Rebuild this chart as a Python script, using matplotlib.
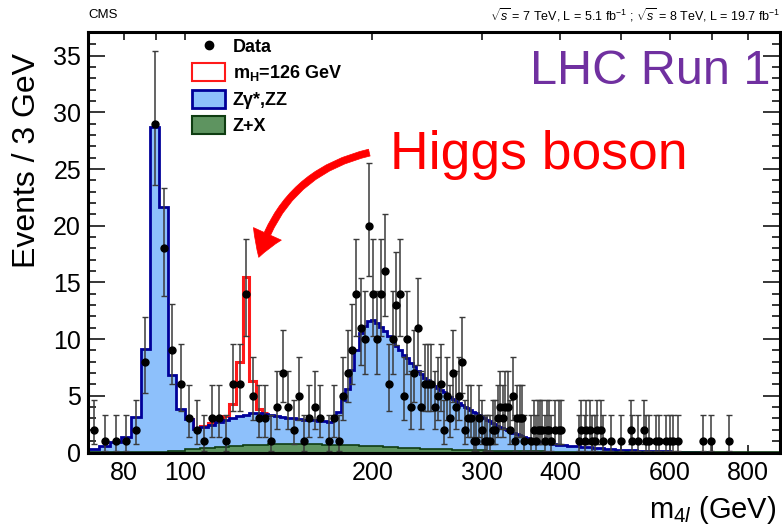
import numpy as np
import matplotlib
matplotlib.use("Agg")
import matplotlib.pyplot as plt
from matplotlib.patches import Patch, FancyArrowPatch
from matplotlib.lines import Line2D

plt.rcParams["font.family"] = ["Liberation Sans", "DejaVu Sans"]
plt.rcParams["mathtext.fontset"] = "custom"
plt.rcParams["mathtext.rm"] = "Liberation Sans"
plt.rcParams["mathtext.it"] = "Liberation Sans:italic"
plt.rcParams["mathtext.bf"] = "Liberation Sans:bold"

# ---- data ----
# background stack top (Zgamma*,ZZ + Z+X), 3 GeV bins 70-400 then 10 GeV bins 400-700
bkg_edges = np.concatenate([np.arange(70, 400, 3), np.arange(400, 701, 10)])
bkg_sum = [
    0.33, 0.53, 0.91, 1.35, 3.1, 9.15, 28.7, 21.7, 6.8, 3.85,
    2.97, 2.09, 2.24, 2.47, 2.68, 2.9, 3.05, 3.2, 3.35, 3.45,
    3.45, 3.4, 3.3, 3.2, 3.1, 3.05, 3.0, 2.95, 2.9, 2.9,
    2.85, 2.8, 2.75, 2.7, 2.95, 3.6, 4.6, 5.6, 7.3, 9.0,
    10.5, 11.2, 11.6, 11.65, 11.4, 11.1, 10.7, 10.3, 9.9, 9.4,
    9.0, 8.6, 8.3, 7.9, 7.6, 7.2, 6.9, 6.6, 6.4, 6.2,
    5.9, 5.7, 5.5, 5.3, 5.1, 4.9, 4.7, 4.55, 4.4, 4.2,
    4.05, 3.9, 3.75, 3.6, 3.45, 3.3, 3.15, 3.0, 2.9, 2.75,
    2.6, 2.5, 2.35, 2.25, 2.15, 2.05, 1.95, 1.85, 1.75, 1.7,
    1.6, 1.5, 1.45, 1.4, 1.3, 1.25, 1.2, 1.1, 1.05, 1.0,
    0.95, 0.92, 0.88, 0.84, 0.8, 0.77, 0.74, 0.71, 0.68, 0.65,
    # 10 GeV bins
    0.62, 0.58, 0.54, 0.49, 0.45, 0.41, 0.37, 0.33, 0.29, 0.26,
    0.23, 0.21, 0.19, 0.17, 0.15, 0.14, 0.12, 0.11, 0.10, 0.09,
    0.08, 0.07, 0.06, 0.055, 0.05, 0.045, 0.04, 0.035, 0.03, 0.03,
]

# m_H = 126 GeV signal on top of the stack, 3 GeV bins starting at 100 GeV
higgs_first_bin = 10
higgs = [0.0, 0.05, 0.1, 0.12, 0.18, 0.36, 1.25, 4.77, 12.15, 2.9, 0.4, 0.1]

# Z+X, 6 GeV bins 70-400 then 20 GeV bins 400-900
zx_edges = np.concatenate([np.arange(70, 400, 6), np.arange(400, 901, 20)])
zx = [
    0.01, 0.02, 0.04, 0.08, 0.15, 0.28, 0.4, 0.5, 0.58, 0.64,
    0.69, 0.72, 0.74, 0.74, 0.73, 0.72, 0.7, 0.68, 0.65, 0.62,
    0.59, 0.56, 0.53, 0.5, 0.47, 0.44, 0.41, 0.38, 0.35, 0.33,
    0.31, 0.29, 0.27, 0.25, 0.23, 0.21, 0.2, 0.19, 0.18, 0.17,
    0.16, 0.15, 0.14, 0.13, 0.12, 0.115, 0.11, 0.105, 0.1, 0.095,
    0.09, 0.085, 0.08, 0.075, 0.07,
    0.065, 0.06, 0.055, 0.05, 0.045, 0.04, 0.035, 0.03, 0.03, 0.025,
    0.02, 0.02, 0.02, 0.015, 0.015, 0.015, 0.01, 0.01, 0.01, 0.01,
    0.01, 0.01, 0.01, 0.01, 0.01,
]

# observed events per 3 GeV bin (bin centres), empty bins omitted
data_mass = [
    71.5, 74.5, 77.5, 80.5, 83.5, 86.5, 89.5, 92.5, 95.5, 98.5,
    101.5, 104.5, 107.5, 110.5, 113.5, 116.5, 119.5, 122.5, 125.5, 128.5,
    131.5, 134.5, 137.5, 140.5, 143.5, 146.5, 149.5, 152.5, 155.5, 158.5,
    161.5, 164.5, 170.5, 173.5, 176.5, 179.5, 182.5, 185.5, 188.5, 191.5,
    194.5, 197.5, 200.5, 203.5, 206.5, 209.5, 212.5, 215.5, 218.5, 221.5,
    224.5, 227.5, 230.5, 233.5, 236.5, 239.5, 242.5, 245.5, 248.5, 251.5,
    254.5, 257.5, 260.5, 263.5, 266.5, 269.5, 272.5, 275.5, 278.5, 281.5,
    284.5, 287.5, 290.5, 293.5, 296.5, 299.5, 302.5, 305.5, 308.5, 311.5,
    314.5, 317.5, 320.5, 323.5, 326.5, 329.5, 332.5, 335.5, 338.5, 341.5,
    344.5, 347.5, 350.5, 359.5, 362.5, 365.5, 368.5, 371.5, 374.5, 377.5,
    380.5, 383.5, 386.5, 392.5, 398.5, 401.5, 428.5, 431.5, 437.5, 440.5,
    446.5, 449.5, 455.5, 458.5, 464.5, 467.5, 482.5, 500.5, 518.5, 521.5,
    533.5, 545.5, 548.5, 554.5, 569.5, 575.5, 590.5, 599.5, 605.5, 617.5,
    677.5, 698.5, 746.5,
]
data_n = [
    2, 1, 1, 1, 2, 8, 29, 18, 9, 6,
    3, 2, 1, 3, 3, 1, 6, 6, 14, 5,
    3, 3, 1, 4, 7, 4, 2, 5, 1, 3,
    4, 3, 1, 3, 1, 5, 7, 9, 14, 11,
    10, 20, 14, 10, 14, 16, 6, 10, 13, 14,
    5, 10, 4, 7, 11, 4, 6, 6, 6, 4,
    5, 6, 2, 5, 3, 7, 4, 5, 8, 2,
    3, 3, 1, 1, 3, 2, 1, 1, 1, 2,
    2, 3, 4, 3, 4, 4, 2, 5, 1, 3,
    3, 3, 1, 1, 2, 1, 2, 2, 2, 1,
    2, 2, 1, 2, 2, 2, 1, 2, 1, 2,
    2, 1, 1, 2, 2, 1, 1, 1, 2, 1,
    1, 2, 1, 1, 1, 1, 1, 1, 1, 1,
    1, 1, 1,
]

# Poisson (Garwood) 68% interval per count, as drawn
poisson_lo = {1: 0.173, 2: 0.708, 3: 1.367, 4: 2.086, 5: 2.840, 6: 3.620, 7: 4.419,
              8: 5.232, 9: 6.057, 10: 6.891, 11: 7.734, 13: 9.441, 14: 10.30,
              16: 12.04, 18: 13.80, 20: 15.57, 29: 23.6}
poisson_hi = {1: 3.300, 2: 4.638, 3: 5.918, 4: 7.163, 5: 8.382, 6: 9.584, 7: 10.77,
              8: 11.95, 9: 13.11, 10: 14.27, 11: 15.42, 13: 17.70, 14: 18.83,
              16: 21.08, 18: 23.32, 20: 25.55, 29: 35.4}

x_ticks = [80, 90, 100, 200, 300, 400, 500, 600, 700, 800]
x_labels = ["80", "", "100", "200", "300", "400", "", "600", "", "800"]

# ---- figure ----
W, H = 782, 528
fig = plt.figure(figsize=(W / 100, H / 100), dpi=100)
ax = fig.add_axes([88 / W, (H - 452.5) / H, 692 / W, 420.5 / H])


def fx(px):
    return px / W


def fy(py):
    return 1 - py / H


blue_fill = "#8dc0fb"
blue_edge = "#000099"
green_fill = "#5e9460"
green_edge = "#0f3d12"

bkg = np.array(bkg_sum)
sig = bkg[higgs_first_bin:higgs_first_bin + len(higgs)] + np.array(higgs)
sig_edges = bkg_edges[higgs_first_bin:higgs_first_bin + len(higgs) + 1]

ax.stairs(sig, sig_edges, baseline=None, color="#ff1a1a", lw=2.2, zorder=2)
ax.stairs(bkg, bkg_edges, fill=True, color=blue_fill, zorder=3)
ax.stairs(bkg, bkg_edges, baseline=None, color=blue_edge, lw=2.0, zorder=4)
ax.stairs(zx, zx_edges, fill=True, color=green_fill, zorder=5)
ax.stairs(zx, zx_edges, baseline=None, color=green_edge, lw=1.2, zorder=6)

n = np.array(data_n)
lo = np.array([poisson_lo[v] for v in data_n])
hi = np.array([poisson_hi[v] for v in data_n])
ax.errorbar(data_mass, n, yerr=[n - lo, hi - n], fmt="o", color="black", ms=5,
            ecolor="#3a3a3a", elinewidth=1.1, capsize=2.2, capthick=1.0, zorder=8)

ax.set_xscale("log")
ax.set_xlim(70, 900)
ax.set_ylim(0, 37.1)
ax.xaxis.set_minor_locator(matplotlib.ticker.NullLocator())
ax.set_xticks(x_ticks)
ax.set_xticklabels(x_labels)
ax.set_yticks(np.arange(0, 36, 5))
ax.set_yticks(np.arange(0, 38, 1), minor=True)
ax.tick_params(axis="both", which="both", direction="in", top=True, right=True)
ax.tick_params(axis="x", length=6, width=1.1, labelsize=18, pad=6)
ax.tick_params(axis="y", which="major", length=12, width=1.1, labelsize=18, pad=5)
ax.tick_params(axis="y", which="minor", length=6, width=1.1)
for s in ax.spines.values():
    s.set_linewidth(2.2)
    s.set_zorder(10)

fig.text(fx(27), fy(160), "Events / 3 GeV", rotation=90, fontsize=23,
         ha="center", va="center")
fig.text(fx(776), fy(510), r"m$_{4\mathit{l}}$ (GeV)", fontsize=21,
         ha="right", va="center")
fig.text(fx(88), fy(15), "CMS", fontsize=9.5, ha="left", va="center")
fig.text(fx(780), fy(15),
         r"$\sqrt{s}$ = 7 TeV, L = 5.1 fb$^{-1}$ ; $\sqrt{s}$ = 8 TeV, L = 19.7 fb$^{-1}$",
         fontsize=9, ha="right", va="center")

fig.text(fx(530), fy(72), "LHC Run 1", fontsize=35, color="#7030a0",
         ha="left", va="center")
fig.text(fx(390), fy(155), "Higgs boson", fontsize=38.5, color="#ff0000",
         ha="left", va="center")

arrow = FancyArrowPatch((fx(372), fy(152)), (fx(258), fy(260)),
                        transform=fig.transFigure,
                        connectionstyle="arc3,rad=0.3",
                        arrowstyle="simple,head_length=18,head_width=22,tail_width=5",
                        mutation_scale=1, color="#ff0000", lw=0.5, zorder=20)
fig.patches.append(arrow)

handles = [
    Line2D([], [], marker="o", color="black", ms=6, ls="none"),
    Patch(facecolor="white", edgecolor="#ff1a1a", lw=1.5),
    Patch(facecolor=blue_fill, edgecolor=blue_edge, lw=2),
    Patch(facecolor=green_fill, edgecolor=green_edge, lw=1.5),
]
labels = ["Data", r"m$_{\mathbf{H}}$=126 GeV", "Z\u03b3*,ZZ", "Z+X"]
ax.legend(handles, labels, loc="upper left", bbox_to_anchor=((192 - 88) / 692, (452.5 - 37) / 420.5),
          frameon=False, prop={"weight": "bold", "size": 13}, handlelength=1.85,
          handleheight=1.15, handletextpad=0.4, labelspacing=0.38, borderpad=0,
          borderaxespad=0)

fig.savefig("out.png", dpi=100)
